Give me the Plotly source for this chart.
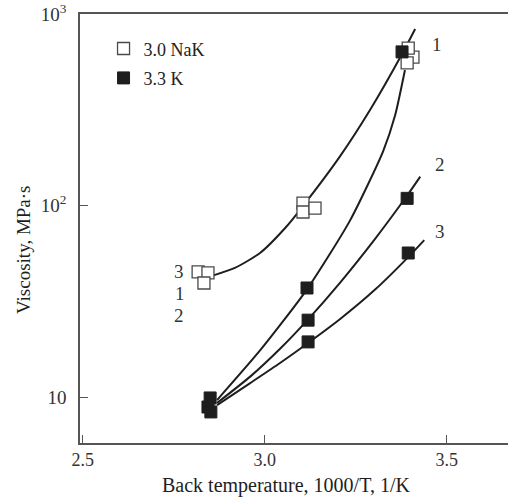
import numpy as np
import plotly.graph_objects as go

# ---- data ----
nak_x = [2.817, 2.844, 2.833, 3.105, 3.105, 3.138, 3.407, 3.391, 3.394]
nak_y = [45.0, 44.5, 39.4, 103, 92.5, 97, 596, 555, 664]

k_x = [2.850, 2.844, 2.852, 3.116, 3.119, 3.119, 3.377, 3.391, 3.394]
k_y = [9.89, 8.87, 8.36, 37.1, 25.2, 19.4, 634, 109, 56.5]

# fitted curves
nak_curve_x = [2.855, 2.918, 2.987, 3.056, 3.105, 3.207, 3.289, 3.377, 3.413]
nak_curve_y = [42.9, 47.2, 56.5, 76.3, 99.4, 181, 315, 618, 835]

k1_curve_x = [2.869, 2.987, 3.116, 3.234, 3.325, 3.358, 3.385]
k1_curve_y = [9.64, 17.5, 36.5, 83.4, 191.9, 295.8, 510]

k2_curve_x = [2.869, 2.960, 3.042, 3.119, 3.207, 3.303, 3.391, 3.427]
k2_curve_y = [9.31, 12.78, 17.87, 25.45, 39.6, 67.0, 112.8, 141.6]

k3_curve_x = [2.869, 2.960, 3.042, 3.119, 3.207, 3.303, 3.394, 3.438]
k3_curve_y = [9.08, 11.83, 15.05, 19.14, 25.55, 36.4, 53.8, 66.0]

# curve labels
lab_text = ["1", "2", "3", "3", "1", "2"]
lab_x = [3.473, 3.482, 3.482, 2.765, 2.767, 2.765]
lab_y = [689, 163, 72.8, 45.0, 34.9, 26.8]

x_ticks = [2.5, 3.0, 3.5]
x_ticktext = ["2.5", "3.0", "3.5"]
y_ticks = [10, 100, 1000]
y_ticktext = ["10", "10<sup>2</sup>", "10<sup>3</sup>"]

FONT = "Liberation Serif"
INK = "#1e1e1e"

fig = go.Figure()

for cx, cy in [(nak_curve_x, nak_curve_y), (k1_curve_x, k1_curve_y),
               (k2_curve_x, k2_curve_y), (k3_curve_x, k3_curve_y)]:
    fig.add_trace(go.Scatter(x=cx, y=cy, mode="lines",
                             line=dict(color=INK, width=2, shape="spline", smoothing=0.6),
                             showlegend=False, hoverinfo="skip"))

fig.add_trace(go.Scatter(x=nak_x, y=nak_y, mode="markers", name="3.0 NaK",
                         legendgroup="a",
                         marker=dict(symbol="square", size=12, color="white",
                                     line=dict(color="#4a4a4a", width=1.3))))
fig.add_trace(go.Scatter(x=k_x, y=k_y, mode="markers", name="3.3 K",
                         legendgroup="b",
                         marker=dict(symbol="square", size=12, color=INK,
                                     line=dict(color=INK, width=1))))

for t, x, y in zip(lab_text, lab_x, lab_y):
    fig.add_annotation(x=x, y=np.log10(y), xref="x", yref="y", text=t,
                       showarrow=False, font=dict(family=FONT, size=19, color="#333"))

fig.add_annotation(x=(23 - 80) / 428, y=1 - (250 - 14) / 429, xref="paper", yref="paper",
                   text="Viscosity, MPa·s",
                   showarrow=False, textangle=-90, xanchor="center", yanchor="middle",
                   font=dict(family=FONT, size=19, color=INK))

fig.add_annotation(x=(286 - 80) / 428, y=-(485 - 443) / 429, xref="paper", yref="paper",
                   text="Back temperature, 1000/T, 1/K",
                   showarrow=False, xanchor="center", yanchor="middle",
                   font=dict(family=FONT, size=20, color=INK))

fig.update_layout(
    width=508, height=499,
    margin=dict(l=80, r=0, t=14, b=56),
    paper_bgcolor="white", plot_bgcolor="white",
    font=dict(family=FONT, size=19, color="#333"),
    showlegend=True,
    legend=dict(x=0.055, y=0.962, xanchor="left", yanchor="top",
                bgcolor="rgba(0,0,0,0)", font=dict(family=FONT, size=18, color="#222"),
                tracegroupgap=3, traceorder="grouped"),
    xaxis=dict(range=[2.4926, 3.668], tickvals=x_ticks, ticktext=x_ticktext,
               ticks="inside", ticklen=8, tickcolor="#555", showline=True,
               linecolor="#555", linewidth=1.5, mirror=True, showgrid=False,
               zeroline=False, tickfont=dict(family=FONT, size=18, color="#333")),
    yaxis=dict(type="log", range=[0.76, 3.0], tickvals=y_ticks, ticktext=y_ticktext,
               ticks="inside", ticklen=8, tickcolor="#555", showline=True,
               linecolor="#555", linewidth=1.5, mirror=False, showgrid=False,
               zeroline=False, ticklabelstandoff=8,
               tickfont=dict(family=FONT, size=19, color="#333")),
)

fig.write_html("out.html")
